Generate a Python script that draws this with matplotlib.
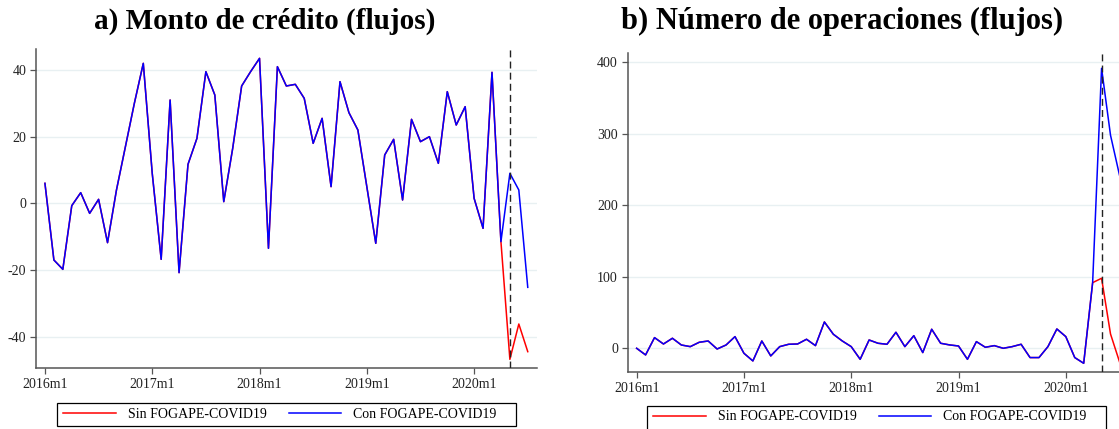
import numpy as np
import matplotlib
matplotlib.use("Agg")
import matplotlib.pyplot as plt
from matplotlib.lines import Line2D
from matplotlib.patches import Rectangle

plt.rcParams['font.family'] = ['Liberation Serif', 'DejaVu Serif']

# ---- data (monthly, 2016m1 .. 2020m7) ----
year_ticks = ["2016m1", "2017m1", "2018m1", "2019m1", "2020m1"]
policy_month = "2020m5"

monto_con = [6.0, -17, -19.8, -0.7, 3.2, -3, 1.2, -11.8, 4, 17, 30, 42,
             9, -16.8, 31, -20.8, 11.7, 19.5, 39.5, 32.5, 0.5, 16.5, 35.2, 39.5,
             43.5, -13.5, 41, 35.2, 35.7, 31.5, 18, 25.5, 5, 36.5, 27.2, 22,
             5, -12, 14.5, 19.2, 1, 25.2, 18.5, 20, 12, 33.5, 23.5, 29,
             1.5, -7.5, 39.3, -11.5, 9, 4, -25.2]
monto_sin = monto_con[:52] + [-46.8, -36.2, -44.5]

oper_con = [0, -9.3, 14.9, 6, 14, 4.6, 2.3, 8.4, 10.2, -1, 4.6, 16.3,
            -7, -17.7, 10.2, -10.7, 2.3, 5.6, 6, 12.6, 3.7, 36.8, 19.6, 10.2,
            2.3, -15.4, 11.6, 7, 5.6, 22.4, 2.3, 17.6, -6, 26.6, 7, 4.7,
            3.2, -15.4, 9.3, 1.4, 3.7, 0, 2.3, 5.6, -13, -13, 2.3, 27,
            16.3, -13, -21, 91.8, 391.6, 298, 242.4]
oper_sin = oper_con[:52] + [97.9, 20, -18.7]

labels = ["Sin FOGAPE-COVID19", "Con FOGAPE-COVID19"]
titles = ["a) Monto de crédito (flujos)", "b) Número de operaciones (flujos)"]

left_yticks = [-40, -20, 0, 20, 40]
right_yticks = [0, 100, 200, 300, 400]

# month labels
months = [f"{y}m{m}" for y in range(2016, 2021) for m in range(1, 13)][:len(monto_con)]
x = np.arange(len(months))

W, H = 1119, 429
fig = plt.figure(figsize=(W / 100, H / 100), dpi=100)

def px_axes(x0, y0, x1, y1):
    return fig.add_axes([x0 / W, 1 - y1 / H, (x1 - x0) / W, (y1 - y0) / H])

ax1 = px_axes(36, 49, 536.7, 368)
ax2 = px_axes(627.7, 53.3, 1128.4, 372.3)

spine_c = '#555555'
grid_c = '#E8F0F2'
tick_c = '#222222'

def style(ax, sin, con, yticks, ylim):
    ax.plot(x, sin, color='#FF0000', lw=1.1, zorder=3)
    ax.plot(x, con, color='#0000FF', lw=1.1, zorder=4)
    ax.axvline(months.index(policy_month), color='#222222', lw=1.0,
               dashes=(5, 3), zorder=5)
    ax.set_xlim(-1, len(months))
    ax.set_ylim(*ylim)
    ax.set_yticks(yticks)
    ax.set_yticklabels([str(v) for v in yticks])
    ax.set_xticks([months.index(t) for t in year_ticks])
    ax.set_xticklabels(year_ticks)
    for s in ['top', 'right']:
        ax.spines[s].set_visible(False)
    for s in ['left', 'bottom']:
        ax.spines[s].set_color(spine_c)
        ax.spines[s].set_linewidth(1.1)
    ax.grid(axis='y', color=grid_c, lw=1.0, zorder=0)
    ax.set_axisbelow(True)
    ax.tick_params(axis='both', direction='out', length=4, width=0.9,
                   color=spine_c, labelsize=10, labelcolor=tick_c, pad=3)

style(ax1, monto_sin, monto_con, left_yticks, (-49.4, 46.3))
style(ax2, oper_sin, oper_con, right_yticks, (-33.6, 412.6))

fig.text(265 / W, 1 - 21 / H, titles[0], ha='center', va='center',
         fontsize=21, fontweight='bold', color='black')
fig.text(842.5 / W, 1 - 21 / H, titles[1], ha='center', va='center',
         fontsize=22, fontweight='bold', color='black')

handles = [Line2D([], [], color='#FF0000', lw=1.1),
           Line2D([], [], color='#0000FF', lw=1.1)]

def add_legend(x0, x1, y0, y1, yc_px):
    yc = 1 - yc_px / H
    fig.legend(handles, labels, ncol=2, loc='center left',
               bbox_to_anchor=((x0 + 6) / W, yc),
               bbox_transform=fig.transFigure,
               frameon=False, fontsize=10,
               handlelength=3.8, handletextpad=0.85, columnspacing=1.6,
               borderpad=0, borderaxespad=0)
    fig.patches.append(Rectangle((x0 / W, 1 - y1 / H), (x1 - x0) / W,
                                 (y1 - y0) / H, transform=fig.transFigure,
                                 fill=False, edgecolor='black', lw=0.9))

add_legend(57, 516, 403, 426, 414.5)
add_legend(647, 1106, 405.5, 431, 417)

fig.savefig("out.png", dpi=100)
